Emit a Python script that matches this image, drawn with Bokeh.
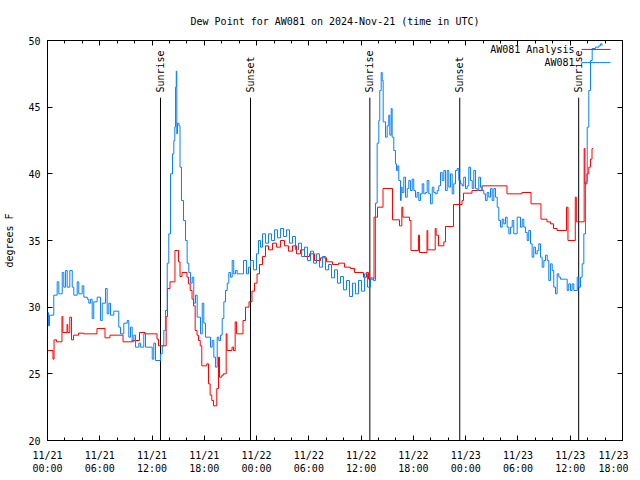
import math
import pandas as pd
from bokeh.plotting import figure
from bokeh.models import (Range1d, FixedTicker, DatetimeTickFormatter, DatetimeAxis,
                          LinearAxis, CustomLabelingPolicy)
from bokeh.core.properties import value
from bokeh.embed import file_html
from bokeh.resources import INLINE

# ---------------- data (hours since 2024-11-21 00:00 UTC, dew point degF) ----------------
base_time = "2024-11-21 00:00"

obs_hours = [0.00, 0.11, 0.23, 0.72, 1.11, 1.30, 1.69, 1.87, 2.07, 2.26, 2.56, 2.84, 3.02, 3.41,
             3.59, 3.98, 4.17, 4.56, 4.74, 4.94, 5.13, 5.31, 5.70, 6.08, 6.28, 6.66, 6.85, 7.04,
             7.23, 7.61, 8.18, 8.38, 8.76, 9.15, 9.33, 9.53, 9.72, 9.91, 10.10, 10.48, 10.67,
             11.05, 11.25, 12.02, 12.20, 12.40, 12.97, 13.17, 13.35, 13.54, 13.74, 13.92, 14.12,
             14.35, 14.50, 14.61, 14.69, 14.78, 14.84, 14.92, 15.09, 15.21, 15.38, 15.61, 15.84,
             16.03, 16.22, 16.41, 16.61, 16.79, 16.99, 17.18, 17.56, 17.76, 17.94, 18.14, 18.71,
             18.90, 19.09, 19.28, 19.48, 19.66, 19.86, 20.05, 20.24, 20.43, 20.63, 20.81, 21.00,
             21.20, 21.38, 21.58, 21.77, 22.15, 22.50, 22.84, 23.07, 23.30, 23.64, 23.99, 24.22,
             24.45, 24.68, 25.02, 25.37, 25.71, 26.06, 26.40, 26.74, 27.09, 27.43, 27.78, 28.12,
             28.47, 28.81, 29.15, 29.50, 29.84, 30.19, 30.53, 30.88, 31.22, 31.56, 31.91, 32.25,
             32.60, 32.94, 33.29, 33.63, 33.97, 34.32, 34.66, 35.01, 35.35, 35.70, 36.04, 36.39,
             36.73, 37.07, 37.42, 37.65, 37.84, 38.03, 38.14, 38.30, 38.42, 38.53, 38.80, 38.99,
             39.17, 39.29, 39.45, 39.56, 39.75, 39.94, 40.06, 40.21, 40.32, 40.52, 40.60, 40.71,
             40.90, 41.09, 41.29, 41.47, 41.66, 41.86, 42.04, 42.24, 42.43, 42.62, 42.81, 43.01,
             43.19, 43.39, 43.58, 43.77, 43.96, 44.16, 44.34, 44.53, 44.73, 44.91, 45.11, 45.30,
             45.49, 45.68, 45.88, 46.06, 46.26, 46.45, 46.63, 46.83, 47.02, 47.21, 47.40, 47.60,
             47.78, 47.98, 48.17, 48.36, 48.55, 48.75, 48.93, 49.13, 49.32, 49.50, 49.70, 49.89,
             50.08, 50.27, 50.47, 50.65, 50.85, 51.04, 51.23, 51.42, 51.62, 51.80, 52.00, 52.19,
             52.37, 52.57, 52.76, 52.95, 53.14, 53.34, 53.52, 53.91, 54.29, 54.49, 54.67, 54.86,
             55.06, 55.24, 55.44, 55.63, 55.82, 56.01, 56.21, 56.39, 56.59, 56.78, 56.97, 57.16,
             57.36, 57.54, 57.73, 57.93, 58.11, 58.31, 58.50, 58.69, 58.88, 59.46, 59.65, 59.83,
             60.03, 60.22, 60.41, 60.80, 60.98, 61.18, 61.37, 61.56, 61.75, 61.95, 62.13, 62.33,
             62.52, 62.90, 63.28, 63.47, 63.65]
obs_dewpt = [29.6, 28.6, 29.4, 30.9, 31.9, 31.0, 32.6, 31.5, 32.75, 31.5, 32.75, 31.5, 30.9, 31.9,
             31.0, 31.6, 30.75, 30.6, 30.3, 30.6, 29.15, 30.4, 30.75, 29.0, 30.3, 31.4, 29.5, 30.3,
             29.4, 29.7, 28.5, 28.0, 28.8, 29.0, 27.75, 28.5, 27.4, 27.9, 27.0, 27.3, 27.0,
             28.0, 27.0, 26.1, 27.3, 26.0, 26.5, 27.1, 28.25, 29.75, 33.3, 35.5, 40.0,
             41.5, 42.5, 43.5, 46.5, 47.7, 43.0, 43.8, 43.6, 40.5, 38.0, 36.5, 35.0,
             33.3, 32.6, 31.8, 32.25, 30.3, 30.9, 29.25, 28.0, 30.3, 28.8, 27.75, 27.0,
             27.5, 26.25, 25.5, 27.75, 27.5, 27.9, 29.15, 30.4, 31.25, 31.8, 32.6, 32.25,
             33.5, 32.5, 32.75, 32.5, 32.5, 33.5, 32.5, 33.0, 33.5, 32.8, 34.0, 35.0,
             34.5, 35.5, 34.8, 35.5, 35.0, 35.8, 35.2, 35.9, 35.3, 35.8, 34.8, 35.3,
             34.3, 34.8, 33.8, 34.5, 33.5, 34.2, 33.3, 34.0, 33.0, 33.8, 32.8, 33.2,
             32.2, 32.8, 31.8, 32.3, 31.3, 32.0, 30.8, 31.8, 31.0, 32.0, 31.2, 32.5,
             31.5, 32.2, 32.0, 37.8, 42.3, 44.0, 46.25, 47.6, 47.0, 43.9, 42.75, 43.6,
             44.4, 42.9, 44.9, 42.75, 41.75, 40.75, 40.25, 40.6, 39.5, 38.0, 39.0, 38.6,
             39.75, 38.25, 38.9, 39.5, 38.75, 39.6, 38.75, 38.25, 38.6, 38.0, 38.5, 39.25,
             38.5, 38.6, 39.5, 38.5, 37.75, 39.0, 38.6, 38.5, 38.75, 39.1, 40.1, 39.5,
             40.25, 38.75, 40.25, 39.0, 40.0, 38.5, 39.25, 40.25, 40.4, 39.5, 39.25, 39.1,
             39.75, 38.9, 39.1, 40.5, 39.5, 38.9, 40.25, 38.9, 38.75, 39.75, 39.0, 38.75,
             38.5, 38.0, 38.6, 38.25, 38.9, 38.0, 38.9, 38.25, 37.5, 36.5, 36.0, 36.6,
             36.25, 36.75, 36.0, 35.5, 36.0, 36.5, 35.5, 36.75, 36.0, 36.6, 36.0, 35.6,
             35.0, 35.75, 34.75, 33.75, 34.5, 34.0, 34.25, 34.75, 33.75, 33.0, 33.5, 33.9,
             33.5, 32.0, 33.25, 32.75, 31.5, 31.0, 32.5, 32.25, 32.1, 32.1, 31.25, 31.75,
             31.25, 31.75, 31.25, 32.25, 31.5, 32.25, 33.25, 35.5, 39.4, 43.5, 46.25, 48.5,
             49.4, 49.5, 49.6, 49.75, 49.6]

ana_hours = [0.00, 0.63, 0.75, 1.03, 1.66, 1.76, 2.24, 2.33, 2.56, 2.75, 2.98, 3.56, 4.13, 5.68,
             6.60, 7.17, 8.67, 9.70, 10.56, 11.19, 12.57, 12.74, 13.62, 13.77, 14.06, 14.63,
             15.04, 15.21, 15.44, 16.01, 16.18, 16.38, 16.59, 16.76, 16.95, 17.16, 17.33, 17.53,
             17.71, 18.28, 18.48, 18.67, 18.86, 19.05, 19.43, 19.63, 19.74, 20.01, 20.20, 20.51,
             20.60, 21.18, 21.35, 21.54, 21.69, 22.44, 22.73, 23.13, 23.47, 23.76, 24.05, 24.33,
             24.68, 25.02, 25.37, 25.83, 26.28, 26.74, 27.20, 27.66, 28.12, 28.58, 29.04, 29.50,
             30.07, 30.65, 31.33, 32.02, 32.71, 33.40, 34.09, 34.78, 35.24, 36.27, 36.62, 36.84,
             37.48, 37.88, 38.51, 39.60, 40.40, 40.67, 40.78, 41.55, 41.72, 42.58, 42.70, 43.56,
             43.65, 44.50, 44.61, 44.88, 45.49, 45.68, 46.60, 47.58, 47.75, 48.72, 49.87, 52.74,
             54.46, 55.50, 56.64, 57.33, 57.73, 58.08, 58.48, 59.57, 59.74, 60.58, 60.70, 61.60,
             61.69, 61.92, 62.13, 62.33, 62.50, 62.61]
ana_dewpt = [26.75, 26.1, 27.55, 27.4, 29.3, 28.1, 28.7, 28.1, 29.25, 27.55, 27.9, 28.05, 28.0, 28.4,
             27.7, 27.9, 27.4, 27.5, 28.1, 28.0, 27.6, 27.1, 29.3, 31.4, 31.9, 34.25,
             33.4, 32.3, 32.6, 32.25, 31.75, 31.25, 30.6, 30.1, 28.25, 27.9, 27.5, 27.1,
             25.6, 25.75, 24.25, 23.4, 23.0, 22.6, 23.9, 26.25, 24.75, 24.9, 25.0, 28.0,
             26.75, 27.0, 26.75, 28.9, 28.0, 29.0, 30.0, 30.4, 31.2, 31.8, 32.5, 33.2,
             33.8, 34.6, 34.3, 34.8, 34.5, 35.0, 34.6, 34.2, 34.6, 34.0, 34.3, 33.8,
             34.0, 33.5, 33.7, 33.4, 33.2, 33.3, 33.0, 32.9, 32.6, 32.25, 32.6, 32.1,
             36.75, 37.5, 38.9, 36.55, 36.1, 37.5, 36.75, 36.5, 34.25, 35.4, 34.1, 35.75,
             34.3, 35.9, 35.4, 34.6, 34.9, 36.05, 37.7, 38.0, 38.55, 38.75, 39.1, 38.5,
             38.6, 37.75, 36.6, 36.4, 36.25, 35.9, 35.75, 37.5, 35.0, 38.25, 36.4, 41.9,
             39.25, 40.0, 40.5, 41.1, 41.9, 41.9]

sun_event_hours = [12.97, 23.30, 37.00, 47.32, 60.97]
sun_event_labels = ["Sunrise", "Sunset", "Sunrise", "Sunset", "Sunrise"]

series_names = ["AW081 Analysis", "AW081"]
title_text = "Dew Point for AW081 on 2024-Nov-21 (time in UTC)"
y_label = "degrees F"
x_span_hours = 66
y_min, y_max = 20, 50

# ---------------- helpers ----------------
t0 = pd.Timestamp(base_time)
def to_time(hours):
    return [t0 + pd.Timedelta(hours=h) for h in hours]
def to_ms(ts):
    return (ts - pd.Timestamp("1970-01-01")) / pd.Timedelta(milliseconds=1)

FONT = "DejaVu Sans Mono"
FS = "10px"
RED = "#ff0000"
BLUE = "#0a80ff"

x_start, x_end = t0, t0 + pd.Timedelta(hours=x_span_hours)
p = figure(frame_width=575, frame_height=400, output_backend="svg", toolbar_location=None,
           x_axis_type=None, y_axis_type=None,
           x_range=Range1d(x_start, x_end), y_range=Range1d(y_min, y_max),
           min_border_left=47, min_border_right=6, min_border_top=40, min_border_bottom=20)
p.title.text = title_text
p.title.text_font = FONT
p.title.text_font_size = FS
p.title.text_font_style = "normal"
p.title.text_color = "black"
p.title.align = "center"
p.title.standoff = 27
p.outline_line_color = "black"
p.outline_line_width = 1
p.xgrid.visible = False
p.ygrid.visible = False
p.background_fill_color = "white"
p.border_fill_color = "white"

major_x = [to_ms(t0 + pd.Timedelta(hours=h)) for h in range(0, x_span_hours + 1, 6)]
minor_x = [to_ms(t0 + pd.Timedelta(hours=h)) for h in range(0, x_span_hours + 1, 2)]
xticker = FixedTicker(ticks=major_x, minor_ticks=minor_x)
fmt = "%m/%d\n%H:%M"
xfmt = DatetimeTickFormatter(milliseconds=fmt, seconds=fmt, minsec=fmt, minutes=fmt,
                             hourmin=fmt, hours=fmt, days=fmt, months=fmt, years=fmt)
yticker = FixedTicker(ticks=list(range(y_min, y_max + 1, 5)), minor_ticks=[])

def style_axis(ax, show_labels):
    ax.axis_line_color = "black"
    ax.major_tick_in = 5
    ax.major_tick_out = 0
    ax.minor_tick_in = 3
    ax.minor_tick_out = 0
    ax.major_tick_line_color = "black"
    ax.minor_tick_line_color = "black"
    ax.major_label_text_font = FONT
    ax.major_label_text_color = "black"
    if show_labels:
        ax.major_label_text_font_size = FS
    else:
        # mirrored tick marks only: no labels are drawn on this axis
        ax.major_label_text_font_size = "0px"
        ax.major_label_standoff = 0
        ax.major_label_policy = CustomLabelingPolicy(code="return []")

xb = DatetimeAxis(ticker=xticker, formatter=xfmt)
style_axis(xb, True)
xb.major_label_standoff = 9
p.add_layout(xb, "below")
xt = DatetimeAxis(ticker=xticker, formatter=xfmt)
style_axis(xt, False)
p.add_layout(xt, "above")

yl = LinearAxis(ticker=yticker, axis_label=y_label)
style_axis(yl, True)
yl.major_label_standoff = 7
yl.axis_label_text_font = FONT
yl.axis_label_text_font_size = FS
yl.axis_label_text_font_style = "normal"
yl.axis_label_text_color = "black"
yl.axis_label_standoff = 10
p.add_layout(yl, "left")
yr = LinearAxis(ticker=yticker)
style_axis(yr, False)
p.add_layout(yr, "right")

# sunrise / sunset markers
ev_t = to_time(sun_event_hours)
line_top = y_min + 0.857 * (y_max - y_min)
text_y = y_min + 0.87 * (y_max - y_min)
p.segment(x0=ev_t, y0=[y_min] * len(ev_t), x1=ev_t, y1=[line_top] * len(ev_t),
          line_color="black", line_width=1)
p.text(x=ev_t, y=[text_y] * len(ev_t), text=sun_event_labels, angle=math.pi / 2,
       text_align="left", text_baseline="middle", text_font=value(FONT),
       text_font_size=FS, text_color="black")

# series
p.step(x=to_time(ana_hours), y=ana_dewpt, mode="after", line_color=RED, line_width=1)
p.step(x=to_time(obs_hours), y=obs_dewpt, mode="after", line_color=BLUE, line_width=1)

# gnuplot-style key (text left, sample line right), placed relative to the ranges
span = x_end - x_start
key_text_x = x_start + span * 0.9165
key_l0 = x_start + span * 0.9287
key_l1 = x_start + span * 0.9791
key_y = [y_min + 0.9777 * (y_max - y_min), y_min + 0.9447 * (y_max - y_min)]
for name, col, ky in zip(series_names, [RED, BLUE], key_y):
    p.text(x=[key_text_x], y=[ky], text=[name], text_align="right", text_baseline="middle",
           text_font=value(FONT), text_font_size=FS, text_color="black")
    p.segment(x0=[key_l0], y0=[ky], x1=[key_l1], y1=[ky], line_color=col, line_width=1)

open("out.html", "w").write(file_html(p, INLINE))
